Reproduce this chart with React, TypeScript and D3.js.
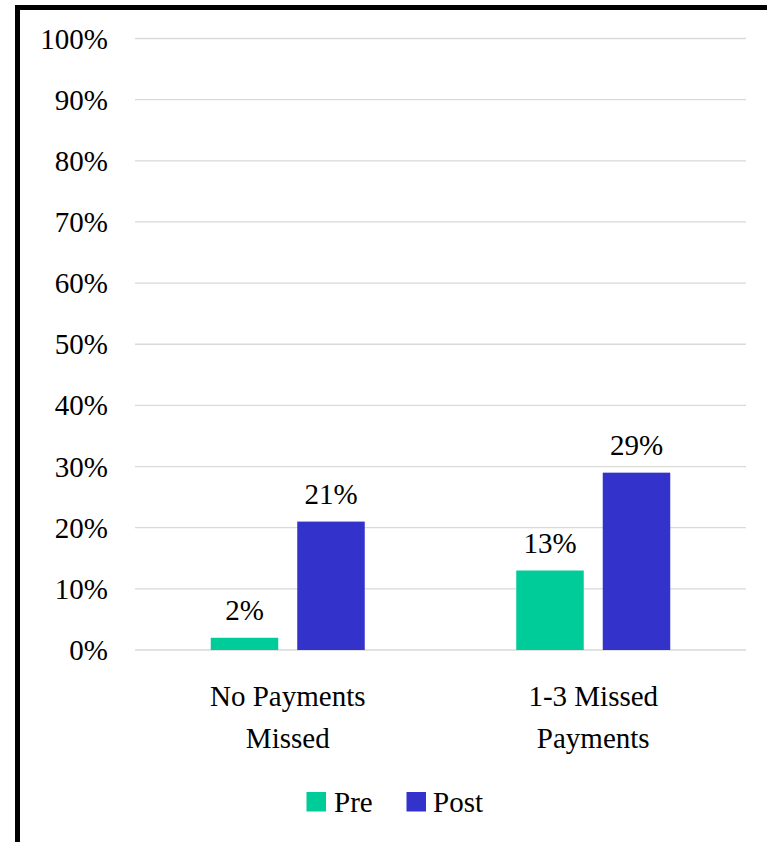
import React from "react";
import * as d3 from "d3";

const categories = [["No Payments", "Missed"], ["1-3 Missed", "Payments"]];
const series = ["Pre", "Post"];
const preValues = [2, 13];
const postValues = [21, 29];
const yTicks = [0, 10, 20, 30, 40, 50, 60, 70, 80, 90, 100];
const colors = ["#00CC99", "#3333CC"];

const W = 767;
const H = 842;
const FF = "Liberation Serif";

export default function App() {
  const plotLeft = 135;
  const plotRight = 746;
  const plotTop = 38.5;
  const plotBottom = 650;

  const y = d3.scaleLinear().domain([0, 100]).range([plotBottom, plotTop]);
  const x0 = d3
    .scaleBand<number>()
    .domain(categories.map((_, i) => i))
    .range([plotLeft, plotRight]);
  const barW = 67.5;
  const gap = 19;
  const values = [preValues, postValues];

  const cx = (ci: number) => (x0(ci) as number) + x0.bandwidth() / 2;
  const bx = (ci: number, si: number) =>
    si === 0 ? cx(ci) - gap / 2 - barW : cx(ci) + gap / 2;

  const bars: any[] = [];
  series.forEach((s, si) =>
    categories.forEach((_, ci) => bars.push({ si, ci, v: values[si][ci] }))
  );

  return (
    <svg width={W} height={H} style={{ position: "absolute", left: 0, top: 0 }}>
      {yTicks.map((t) => (
        <line
          key={"g" + t}
          x1={plotLeft}
          x2={plotRight}
          y1={y(t)}
          y2={y(t)}
          stroke="#d9d9d9"
          strokeWidth={1.3}
        />
      ))}
      {yTicks.map((t) => (
        <text
          key={"t" + t}
          x={108}
          y={y(t) + 10}
          textAnchor="end"
          fill="#000"
          fontFamily={FF}
          fontSize={29}
        >
          {t}%
        </text>
      ))}
      {bars.map((b) => (
        <rect
          key={"r" + b.si + b.ci}
          x={bx(b.ci, b.si)}
          y={y(b.v)}
          width={barW}
          height={plotBottom - y(b.v)}
          fill={colors[b.si]}
        />
      ))}
      {bars.map((b) => (
        <text
          key={"l" + b.si + b.ci}
          x={bx(b.ci, b.si) + barW / 2}
          y={y(b.v) - 18}
          textAnchor="middle"
          fill="#000"
          fontFamily={FF}
          fontSize={29}
        >
          {b.v}%
        </text>
      ))}
      {categories.map((cat, ci) =>
        cat.map((line, li) => (
          <text
            key={"c" + ci + li}
            x={cx(ci)}
            y={706 + li * 42}
            textAnchor="middle"
            fill="#000"
            fontFamily={FF}
            fontSize={29}
          >
            {line}
          </text>
        ))
      )}
      {series.map((s, si) => (
        <rect
          key={"lr" + s}
          x={si === 0 ? 306.5 : 406.5}
          y={792}
          width={19.5}
          height={19.5}
          fill={colors[si]}
        />
      ))}
      {series.map((s, si) => (
        <text
          key={"lt" + s}
          x={si === 0 ? 334 : 433}
          y={811.5}
          fill="#000"
          fontFamily={FF}
          fontSize={29}
        >
          {s}
        </text>
      ))}
      <path
        d={`M17.5,${H} V7.5 H${W}`}
        fill="none"
        stroke="#000"
        strokeWidth={5}
      />
    </svg>
  );
}
